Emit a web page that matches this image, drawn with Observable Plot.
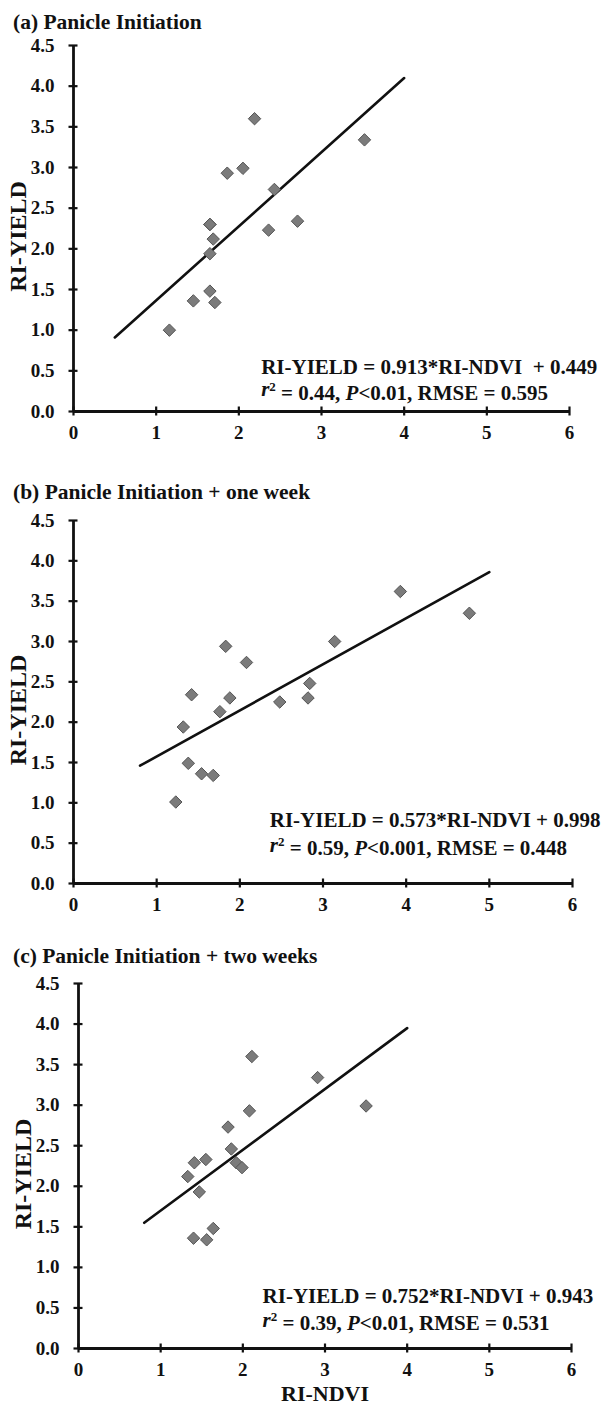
<!DOCTYPE html>
<html>
<head>
<meta charset="utf-8">
<script src="https://cdn.jsdelivr.net/npm/d3@7"></script>
<script src="https://cdn.jsdelivr.net/npm/@observablehq/plot@0.6"></script>
<style>
  html, body { margin: 0; padding: 0; background: #fff; }
  #wrap { position: relative; width: 610px; height: 1407px; overflow: hidden; font-family: "Liberation Serif", "Times New Roman", serif; color: #111; }
  .title { position: absolute; left: 13px; font-size: 21.5px; font-weight: bold; line-height: 26px; white-space: nowrap; }
  .panel { position: absolute; left: 0; }
</style>
</head>
<body>
<div id="wrap"></div>
<script>
// ---------- data ----------
const panelTitles = [
  "(a) Panicle Initiation",
  "(b) Panicle Initiation + one week",
  "(c) Panicle Initiation + two weeks"
];
const xTicks = [0, 1, 2, 3, 4, 5, 6];
const yTicks = [0, 0.5, 1, 1.5, 2, 2.5, 3, 3.5, 4, 4.5];
const yLabel = "RI-YIELD";
const xLabel = "RI-NDVI";

// (a) Panicle Initiation
const ndviA  = [1.16, 1.45, 1.65, 1.71, 1.65, 1.69, 1.65, 1.65, 1.86, 2.05, 2.19, 2.43, 2.36, 2.71, 3.52];
const yieldA = [1.00, 1.36, 1.48, 1.34, 1.94, 2.12, 2.30, 2.30, 2.93, 2.99, 3.60, 2.73, 2.23, 2.34, 3.34];
const fitXA = [0.5, 4.0];
const fitYA = [0.91, 4.10];
const eqA = ["RI-YIELD = 0.913*RI-NDVI  + 0.449", "r2 = 0.44, P<0.01, RMSE = 0.595"];

// (b) Panicle Initiation + one week
const ndviB  = [1.23, 1.38, 1.54, 1.68, 1.32, 1.42, 1.76, 1.88, 1.83, 2.08, 2.48, 2.82, 2.84, 3.14, 3.93, 4.76];
const yieldB = [1.01, 1.49, 1.36, 1.34, 1.94, 2.34, 2.13, 2.30, 2.94, 2.74, 2.25, 2.30, 2.48, 3.00, 3.62, 3.35];
const fitXB = [0.8, 5.0];
const fitYB = [1.46, 3.86];
const eqB = ["RI-YIELD = 0.573*RI-NDVI + 0.998", "r2 = 0.59, P<0.001, RMSE = 0.448"];

// (c) Panicle Initiation + two weeks
const ndviC  = [1.33, 1.41, 1.55, 1.47, 1.40, 1.56, 1.64, 1.82, 1.86, 1.92, 1.99, 2.08, 2.11, 2.91, 3.50];
const yieldC = [2.12, 2.29, 2.33, 1.93, 1.36, 1.34, 1.48, 2.73, 2.46, 2.29, 2.23, 2.93, 3.60, 3.34, 2.99];
const fitXC = [0.8, 4.0];
const fitYC = [1.55, 3.95];
const eqC = ["RI-YIELD = 0.752*RI-NDVI + 0.943", "r2 = 0.39, P<0.01, RMSE = 0.531"];

// ---------- drawing ----------
const FONT = "Liberation Serif, Times New Roman, serif";
const wrap = document.getElementById("wrap");

function panel(cfg) {
  const pts = cfg.x.map((x, i) => ({x, y: cfg.y[i]}));
  const fit = cfg.fx.map((x, i) => ({x, y: cfg.fy[i]}));
  const eq = cfg.eq.map((t, i) => ({t, x: cfg.eqX, y: cfg.eqY[i]}));
  const marks = [
    Plot.axisY({ticks: yTicks, tickFormat: d3.format(".1f"), tickSize: 0, tickPadding: 19,
      fontSize: 19, fontWeight: "bold", fontFamily: FONT, fill: "#111", label: null}),
    Plot.axisX({ticks: xTicks, tickFormat: d3.format("d"), tickSize: 0, tickPadding: 14,
      fontSize: 19, fontWeight: "bold", fontFamily: FONT, fill: "#111", label: null}),
    Plot.text([yLabel], {frameAnchor: "left", rotate: -90, dx: -55, dy: 8, textAnchor: "middle", lineAnchor: "middle",
      fontSize: 24, fontWeight: "bold", fontFamily: FONT, fill: "#111"}),
    cfg.xLabel ? Plot.text([xLabel], {x: 3, frameAnchor: "bottom", dy: 45, textAnchor: "middle", lineAnchor: "middle",
      fontSize: 22, fontWeight: "bold", fontFamily: FONT, fill: "#111"}) : null,
    Plot.ruleY([0], {stroke: "#111", strokeWidth: 2.8}),
    Plot.ruleX([0], {stroke: "#111", strokeWidth: 2.8}),
    Plot.ruleX(xTicks, {x: d => d, y1: 0, y2: 0, insetTop: -4.5, insetBottom: -4.5, stroke: "#111", strokeWidth: 2.2}),
    Plot.ruleY(yTicks, {y: d => d, x1: 0, x2: 0, insetLeft: -4.5, insetRight: -4.5, stroke: "#111", strokeWidth: 2.2}),
    Plot.line(fit, {x: "x", y: "y", stroke: "#111", strokeWidth: 2.6}),
    Plot.dot(pts, {x: "x", y: "y", symbol: "diamond2", r: 5.6, fill: "#7b7b7b", stroke: "#555", strokeWidth: 1}),
    Plot.text(eq, {x: "x", y: "y", text: "t", textAnchor: "start", lineAnchor: "middle",
      fontSize: 21, fontWeight: "bold", fontFamily: FONT, fill: "#111"})
  ];
  const svg = Plot.plot({
    width: 610, height: cfg.h,
    marginTop: cfg.mt, marginBottom: cfg.mb, marginLeft: cfg.ml, marginRight: cfg.mr,
    x: {domain: [0, 6]},
    y: {domain: [0, 4.5]},
    style: {fontFamily: FONT, color: "#111", background: "transparent", overflow: "visible"},
    marks
  });
  // italic r / superscript 2 / italic P in the statistics line
  d3.select(svg).selectAll("text").each(function() {
    const s = this.textContent;
    if (/^r2 = /.test(s)) {
      const m = s.match(/^r2 = ([^,]+), P(.*)$/);
      this.textContent = "";
      const t = d3.select(this);
      t.append("tspan").attr("font-style", "italic").text("r");
      t.append("tspan").attr("font-size", 13).attr("dy", "-0.42em").text("2");
      t.append("tspan").attr("dy", "0.42em").text(" = " + m[1] + ", ");
      t.append("tspan").attr("font-style", "italic").text("P");
      t.append("tspan").text(m[2]);
    }
  });
  svg.classList.add("panel");
  svg.style.top = cfg.top + "px";
  wrap.appendChild(svg);

  const title = document.createElement("div");
  title.className = "title";
  title.style.top = cfg.titleTop + "px";
  title.textContent = cfg.title;
  wrap.appendChild(title);
}

panel({title: panelTitles[0], titleTop: 9, top: 35, h: 435, mt: 10, mb: 59, ml: 73, mr: 41,
  x: ndviA, y: yieldA, fx: fitXA, fy: fitYA, eq: eqA, eqX: 2.27, eqY: [0.55, 0.27]});
panel({title: panelTitles[1], titleTop: 479, top: 505, h: 435, mt: 15, mb: 57, ml: 73, mr: 38,
  x: ndviB, y: yieldB, fx: fitXB, fy: fitYB, eq: eqB, eqX: 2.36, eqY: [0.78, 0.48]});
panel({title: panelTitles[2], titleTop: 943, top: 968, h: 439, mt: 15, mb: 59, ml: 78, mr: 39,
  x: ndviC, y: yieldC, fx: fitXC, fy: fitYC, eq: eqC, eqX: 2.24, eqY: [0.64, 0.35], xLabel: true});
</script>
</body>
</html>
